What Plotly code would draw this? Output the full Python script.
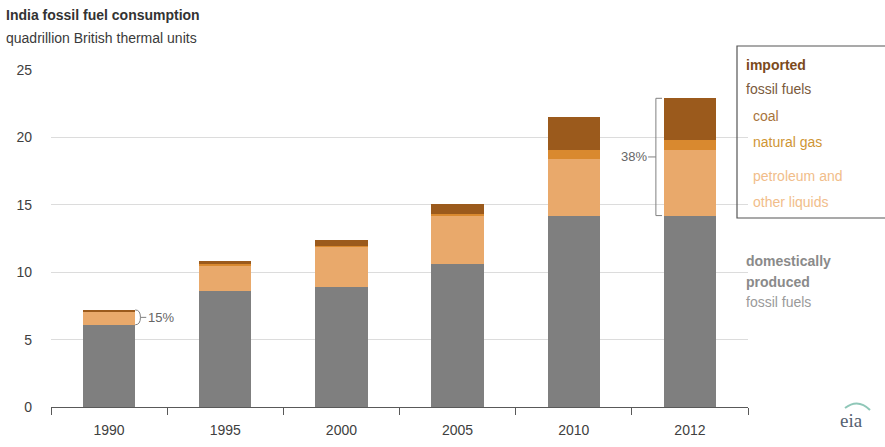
import plotly.graph_objects as go

years = ["1990", "1995", "2000", "2005", "2010", "2012"]
domestic = [6.1, 8.6, 8.9, 10.6, 14.2, 14.2]
petroleum = [1.0, 1.9, 3.0, 3.55, 4.2, 4.9]
natural_gas = [0.0, 0.1, 0.05, 0.15, 0.7, 0.7]
coal = [0.1, 0.2, 0.45, 0.75, 2.4, 3.1]
y_ticks = [0, 5, 10, 15, 20, 25]

C_DOM = "#7f7f7f"
C_PET = "#e9a96b"
C_GAS = "#d9892f"
C_COAL = "#9b5a1c"
FONT = "Liberation Sans, Arial, sans-serif"

W, H = 885, 447
L, R, T, B = 51, 137, 70, 40
PW, PH = W - L - R, H - T - B


def px(x):
    return (x - L) / PW


def py(y):
    return (H - B - y) / PH


fig = go.Figure()
for name, vals, col in [("domestic", domestic, C_DOM), ("petroleum", petroleum, C_PET),
                        ("natural gas", natural_gas, C_GAS), ("coal", coal, C_COAL)]:
    fig.add_trace(go.Bar(x=years, y=vals, name=name, marker=dict(color=col, line=dict(width=0)),
                         width=0.45, showlegend=False, hoverinfo="y"))

totals = [d + p + g + c for d, p, g, c in zip(domestic, petroleum, natural_gas, coal)]
shapes = []
annotations = []

# 1990 bracket (15%)
i = 0
y0, y1 = domestic[i], totals[i]
ym = (y0 + y1) / 2
shapes.append(dict(type="path", xref="x", yref="y",
                   path=f"M {i+0.225},{y1} Q {i+0.27},{y1} {i+0.27},{ym} Q {i+0.27},{y0} {i+0.225},{y0}",
                   line=dict(color="#808080", width=1)))
shapes.append(dict(type="line", xref="x", yref="y", x0=i + 0.27, x1=i + 0.32, y0=ym, y1=ym,
                   line=dict(color="#808080", width=1)))
imp0 = 1 - domestic[i] / totals[i]
annotations.append(dict(x=i + 0.32, y=ym, xref="x", yref="y", text=f"{round(imp0*100/5)*5:.0f}%",
                        showarrow=False, xanchor="left", yanchor="middle",
                        font=dict(size=13, color="#666666", family=FONT)))

# 2012 bracket (38%)
i = 5
y0, y1 = domestic[i], totals[i]
ym = (y0 + y1) / 2
xv = i - 0.293
xt = i - 0.24
shapes.append(dict(type="path", xref="x", yref="y",
                   path=f"M {xt},{y1} L {xv},{y1} L {xv},{y0} L {xt},{y0}",
                   line=dict(color="#808080", width=1)))
shapes.append(dict(type="line", xref="x", yref="y", x0=i - 0.36, x1=xv, y0=ym, y1=ym,
                   line=dict(color="#808080", width=1)))
imp5 = 1 - domestic[i] / totals[i]
annotations.append(dict(x=i - 0.355, y=ym, xref="x", yref="y", text=f"{imp5*100:.0f}%",
                        showarrow=False, xanchor="right", yanchor="middle",
                        font=dict(size=13, color="#666666", family=FONT)))

# legend box (open on the right, running off the page)
bx0, bx1, btop, bbot = px(737), px(885), py(46), py(218)
shapes.append(dict(type="path", xref="paper", yref="paper",
                   path=f"M {bx1},{btop} L {bx0},{btop} L {bx0},{bbot} L {bx1},{bbot}",
                   line=dict(color="#555555", width=1.2)))


def txt(x, y, text, size, color, bold=False, family=FONT):
    annotations.append(dict(x=px(x), y=py(y), xref="paper", yref="paper",
                            text=f"<b>{text}</b>" if bold else text, showarrow=False,
                            xanchor="left", yanchor="middle",
                            font=dict(size=size, color=color, family=family)))


txt(744, 65, "imported", 14, "#7b4a1c", bold=True)
txt(744, 89, "fossil fuels", 14, "#7a5a3c")
txt(751, 116, "coal", 14, "#a8743c")
txt(751, 142, "natural gas", 14, "#cf9535")
txt(751, 176, "petroleum and", 14, "#f1bd8a")
txt(751, 202, "other liquids", 14, "#f1bd8a")
txt(744, 261, "domestically", 14, "#8a8a8a", bold=True)
txt(744, 282, "produced", 14, "#8a8a8a", bold=True)
txt(744, 302, "fossil fuels", 14, "#9a9a9a")

# title
txt(4, 15, "India fossil fuel consumption", 14, "#333333", bold=True)
txt(4, 38, "quadrillion British thermal units", 14, "#3a3a3a")

# eia logo
txt(838, 420, "eia", 19, "#556070", family="Liberation Serif, DejaVu Serif, serif")
shapes.append(dict(type="path", xref="paper", yref="paper",
                   path=f"M {px(845)},{py(408)} Q {px(858)},{py(398)} {px(870)},{py(410)}",
                   line=dict(color="#8fc7b8", width=2)))

fig.update_layout(
    width=W, height=H, barmode="stack", bargap=0.55,
    margin=dict(l=L, r=R, t=T, b=B, autoexpand=False),
    plot_bgcolor="white", paper_bgcolor="white",
    font=dict(family=FONT, size=13, color="#404040"),
    shapes=shapes, annotations=annotations,
    xaxis=dict(type="category", showline=True, linecolor="#595959", linewidth=1.2,
               ticks="outside", tickson="boundaries", ticklen=7, tickcolor="#595959",
               showgrid=False, tickfont=dict(size=14, color="#404040"), ticklabelstandoff=10),
    yaxis=dict(range=[0, 25], tickvals=y_ticks, showgrid=True, gridcolor="#dcdcdc", gridwidth=1,
               zeroline=False, showline=False, ticks="", tickfont=dict(size=14, color="#404040"),
               ticklabelstandoff=18),
)

fig.write_html("out.html")
